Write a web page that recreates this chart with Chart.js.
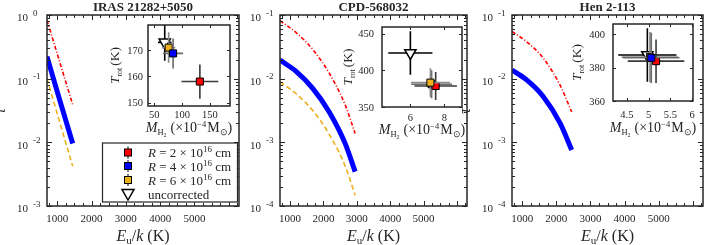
<!DOCTYPE html>
<html><head><meta charset="utf-8">
<script src="https://cdn.jsdelivr.net/npm/chart.js@4.4.0/dist/chart.umd.min.js"></script>
<style>
html,body{margin:0;padding:0;background:#fff;width:706px;height:245px;overflow:hidden}
canvas{position:absolute;left:0;top:0}
</style></head><body>
<script>
// ---------------- data ----------------
const panelTitles = ['IRAS 21282+5050', 'CPD-568032', 'Hen 2-113'];
const energyTicks = [1000, 2000, 3000, 4000, 5000];
const energyRange = [700, 6300];
// panel 1 : IRAS 21282+5050  (tau vs Eu/k)
const p1Energy = [700, 1000, 1450];
const p1TauR2 = [0.83, 0.244, 0.039];
const p1TauR4 = [0.222, 0.062, 0.0096];
const p1TauR6 = [0.10, 0.028, 0.0042];
// panel 2 : CPD-568032
const p2Energy = [700, 1190, 1680, 2170, 2650, 2950];
const p2TauR2 = [0.0813, 0.0525, 0.0288, 0.0123, 0.00389, 0.00138];
const p2TauR4 = [0.0196, 0.0129, 0.00705, 0.00303, 0.000964, 0.000347];
const p2TauR6 = [0.0089, 0.00575, 0.00316, 0.00135, 0.000427, 0.000148];
// panel 3 : Hen 2-113
const p3Energy = [700, 1130, 1620, 2110, 2450];
const p3TauR2 = [0.055, 0.038, 0.0209, 0.0079, 0.0030];
const p3TauR4 = [0.0137, 0.00955, 0.00521, 0.0020, 0.00076];
// legend
const legendRadii = ['2', '4', '6'];
const legendExtra = 'uncorrected';
// insets: order = [R=2e16, R=4e16, R=6e16, uncorrected]
const in1Mass = [132, 84, 76, 69];
const in1MassErr = [33, 18, 12, 12];
const in1Trot = [158, 168.7, 170.9, 172.9];
const in1TrotErr = [6.5, 5.7, 5.8, 7];
const in1XTicks = [50, 100, 150];
const in1YTicks = [150, 160, 170];
const in2Mass = [7.49, 7.25, 7.18, 6.0];
const in2MassErr = [1.25, 1.2, 1.15, 1.3];
const in2Trot = [378.6, 381, 383.2, 423.6];
const in2TrotErr = [19, 19, 19.5, 29.5];
const in2XTicks = [6, 8];
const in2YTicks = [350, 400, 450];
const in3Mass = [5.17, 5.06, 5.03, 4.97];
const in3MassErr = [0.65, 0.65, 0.65, 0.67];
const in3Trot = [383.8, 385.8, 386.2, 387.5];
const in3TrotErr = [13, 15, 15, 16];
const in3XTicks = [4.5, 5, 5.5, 6];
const in3YTicks = [360, 380, 400];

// ---------------- style ----------------
const COL = ['#ff0000', '#0000ff', '#EDB120'];
const ERRCOL = ['#3a3a3a', '#6a6a6a', '#8a8a8a', '#000000'];
const AX = '#262626';
const FONT = '"Liberation Serif","Times New Roman",serif';
function fnt(size, it, b) { return (b ? 'bold ' : '') + (it ? 'italic ' : '') + size + 'px ' + FONT; }
function rich(ctx, segs, x, y, align, base, rot) {
  ctx.save();
  ctx.translate(x, y); if (rot) ctx.rotate(rot);
  let w = 0;
  const items = segs.map(s => { const f = fnt(s.s || base, s.i, s.b); ctx.font = f; const mw = ctx.measureText(s.t).width; w += mw + (s.g || 0); return { f, mw, t: s.t, dy: s.dy || 0, g: s.g || 0 }; });
  let cx = align === 'center' ? -w / 2 : align === 'right' ? -w : 0;
  ctx.textAlign = 'left'; ctx.textBaseline = 'alphabetic'; ctx.fillStyle = AX;
  for (const it of items) { ctx.font = it.f; ctx.fillText(it.t, cx, it.dy); cx += it.mw + it.g; }
  ctx.restore();
}
function newCanvas() { const c = document.createElement('canvas'); c.width = 706; c.height = 245; document.body.appendChild(c); return c; }

function mainPlugin(o) {
  return {
    id: 'mainAxes',
    beforeDraw(chart) { const { ctx, chartArea: a } = chart; ctx.save(); ctx.fillStyle = '#fff'; ctx.fillRect(a.left, a.top, a.right - a.left, a.bottom - a.top); ctx.restore(); },
    afterDraw(chart) {
      const { ctx, chartArea: a, scales: { x, y } } = chart;
      ctx.save();
      ctx.strokeStyle = AX; ctx.lineWidth = 1;
      ctx.beginPath();
      for (let d = o.lo; d <= o.hi; d++) {
        for (let k = 1; k < 10; k++) {
          if (d === o.hi && k > 1) break;
          const py = Math.round(y.getPixelForValue(k * Math.pow(10, d))) + 0.5;
          const L = k === 1 ? 5 : 3;
          ctx.moveTo(a.left, py); ctx.lineTo(a.left + L, py);
          ctx.moveTo(a.right, py); ctx.lineTo(a.right - L, py);
        }
      }
      for (let v = Math.ceil(energyRange[0] / 250) * 250; v <= energyRange[1]; v += 250) {
        const px = Math.round(x.getPixelForValue(v)) + 0.5;
        const L = v % 1000 === 0 ? 5 : 3;
        ctx.moveTo(px, a.bottom); ctx.lineTo(px, a.bottom - L);
        ctx.moveTo(px, a.top); ctx.lineTo(px, a.top + L);
      }
      ctx.stroke();
      ctx.lineWidth = 1.5; ctx.strokeRect(a.left, a.top, a.right - a.left, a.bottom - a.top);
      ctx.restore();
      for (const v of energyTicks) rich(ctx, [{ t: String(v) }], x.getPixelForValue(v), a.bottom + 16, 'center', 11);
      for (let d = o.lo; d <= o.hi; d++) {
        const py = y.getPixelForValue(Math.pow(10, d));
        rich(ctx, [{ t: '10' }], a.left - 30, py + 6.3, 'left', 11);
        rich(ctx, [{ t: d === 0 ? '0' : '-' + Math.abs(d) }], a.left - 14, py + 0.8, 'left', 9);
      }
      const cxm = (a.left + a.right) / 2;
      rich(ctx, [{ t: 'E', i: 1 }, { t: 'u', s: 11, dy: 3 }, { t: '/' }, { t: 'k', i: 1 }, { t: ' (K)' }], cxm, 240.5, 'center', 16);
      rich(ctx, [{ t: o.title, b: 1 }], cxm, 10.5, 'center', 13);
      if (o.tau) rich(ctx, [{ t: 'τ', i: 1 }], a.left - 42, 111, 'center', 16, -Math.PI / 2);
      if (o.legend) drawLegend(ctx);
    }
  };
}

function drawSquare(ctx, px, py, col, errCol) {
  ctx.save();
  ctx.strokeStyle = errCol; ctx.lineWidth = 1.5;
  ctx.beginPath(); ctx.moveTo(px, py - 6); ctx.lineTo(px, py + 6); ctx.stroke();
  ctx.fillStyle = col; ctx.fillRect(px - 3.5, py - 3.5, 7, 7);
  ctx.strokeStyle = '#000'; ctx.lineWidth = 1; ctx.strokeRect(px - 3.5, py - 3.5, 7, 7);
  ctx.restore();
}
function drawLegend(ctx) {
  const bx = 102.5, by = 143, bw = 135, bh = 59;
  ctx.save();
  ctx.fillStyle = '#fff'; ctx.fillRect(bx, by, bw, bh);
  ctx.strokeStyle = AX; ctx.lineWidth = 1.2; ctx.strokeRect(bx, by, bw, bh);
  const rows = [152.5, 166, 180, 194];
  const mx = 128;
  for (let i = 0; i < 3; i++) {
    drawSquare(ctx, mx, rows[i], COL[i], '#555');
    rich(ctx, [{ t: 'R', i: 1 }, { t: ' = ' + legendRadii[i] + ' × 10' }, { t: '16', s: 9, dy: -5 }, { t: ' cm' }], 148, rows[i] + 4.5, 'left', 13);
  }
  const ty = rows[3];
  ctx.beginPath(); ctx.moveTo(mx - 6, ty - 4.5); ctx.lineTo(mx + 6, ty - 4.5); ctx.lineTo(mx, ty + 6); ctx.closePath();
  ctx.fillStyle = '#fff'; ctx.fill(); ctx.strokeStyle = '#000'; ctx.lineWidth = 1.5; ctx.stroke();
  rich(ctx, [{ t: legendExtra }], 148, ty + 4.5, 'left', 13);
  ctx.restore();
}

function makeMain(o) {
  const ds = o.series.map(s => ({
    data: o.E.map((e, i) => ({ x: e, y: s.v[i] })),
    borderColor: s.c, borderWidth: s.w, borderDash: s.d || [], pointRadius: 0,
    cubicInterpolationMode: o.straight ? 'default' : 'monotone', tension: 0, fill: false, borderCapStyle: 'butt'
  }));
  new Chart(newCanvas(), {
    type: 'line', data: { datasets: ds },
    options: {
      responsive: false, animation: false, devicePixelRatio: 1, events: [],
      layout: { padding: { left: o.L, right: 706 - o.R, top: o.T, bottom: 245 - o.B } },
      scales: {
        x: { type: 'linear', min: energyRange[0], max: energyRange[1], display: false },
        y: { type: 'logarithmic', min: Math.pow(10, o.lo), max: Math.pow(10, o.hi), display: false }
      },
      plugins: { legend: { display: false }, tooltip: { enabled: false } }
    },
    plugins: [mainPlugin(o)]
  });
}

function insetPlugin(o) {
  return {
    id: 'insetAxes',
    beforeDraw(chart) { const { ctx, chartArea: a } = chart; ctx.save(); ctx.fillStyle = '#fff'; ctx.fillRect(a.left, a.top, a.right - a.left, a.bottom - a.top); ctx.restore(); },
    beforeDatasetDraw(chart, args) {
      const i = args.index; const { ctx, chartArea: a, scales: { x, y } } = chart;
      const px = x.getPixelForValue(o.mass[i]), py = y.getPixelForValue(o.trot[i]);
      const x0 = x.getPixelForValue(o.mass[i] - o.massErr[i]), x1 = x.getPixelForValue(o.mass[i] + o.massErr[i]);
      const y0 = y.getPixelForValue(o.trot[i] - o.trotErr[i]), y1 = y.getPixelForValue(o.trot[i] + o.trotErr[i]);
      ctx.save();
      ctx.beginPath(); ctx.rect(a.left, a.top, a.right - a.left, a.bottom - a.top); ctx.clip();
      ctx.strokeStyle = ERRCOL[i]; ctx.lineWidth = 1.6;
      ctx.beginPath(); ctx.moveTo(x0, py); ctx.lineTo(x1, py); ctx.moveTo(px, y0); ctx.lineTo(px, y1); ctx.stroke();
      ctx.restore();
    },
    afterDraw(chart) {
      const { ctx, chartArea: a, scales: { x, y } } = chart;
      ctx.save();
      ctx.strokeStyle = AX; ctx.lineWidth = 1;
      ctx.beginPath();
      for (const v of o.xt) { const px = Math.round(x.getPixelForValue(v)) + 0.5; ctx.moveTo(px, a.bottom); ctx.lineTo(px, a.bottom - 3); ctx.moveTo(px, a.top); ctx.lineTo(px, a.top + 3); }
      for (const v of o.yt) { const py = Math.round(y.getPixelForValue(v)) + 0.5; ctx.moveTo(a.left, py); ctx.lineTo(a.left + 3, py); ctx.moveTo(a.right, py); ctx.lineTo(a.right - 3, py); }
      ctx.stroke();
      ctx.lineWidth = 1.5; ctx.strokeRect(a.left, a.top, a.right - a.left, a.bottom - a.top);
      ctx.restore();
      for (const v of o.xt) rich(ctx, [{ t: String(v) }], x.getPixelForValue(v), o.xlb, 'center', 10.5);
      for (const v of o.yt) rich(ctx, [{ t: String(v) }], a.left - o.ylg, y.getPixelForValue(v) + 3.6, 'right', 10.5);
      rich(ctx, [{ t: 'M', i: 1 }, { t: 'H', s: 8.5, dy: 3 }, { t: '2', s: 6, dy: 5, g: 4 }, { t: '(×10' }, { t: '−4', s: 8.5, dy: -5, g: 1 }, { t: 'M' }, { t: '⊙', s: 8.5, dy: 3 }, { t: ')' }], (a.left + a.right) / 2, o.xtb, 'center', 14);
      rich(ctx, [{ t: 'T', i: 1 }, { t: 'rot', s: 8, dy: 3, g: 2 }, { t: '(K)' }], o.ytx + 4, (a.top + a.bottom) / 2, 'center', 13.5, -Math.PI / 2);
    }
  };
}

function makeInset(o) {
  const ds = [];
  for (let i = 0; i < 4; i++) {
    const tri = i === 3;
    ds.push({
      data: [{ x: o.mass[i], y: o.trot[i] }],
      pointStyle: tri ? 'triangle' : 'rect', rotation: tri ? 180 : 0,
      pointRadius: tri ? 6.5 : 5, backgroundColor: tri ? '#fff' : COL[i],
      borderColor: '#000', borderWidth: tri ? 1.5 : 1, showLine: false,
      order: 10 - o.drawOrder.indexOf(i)
    });
  }
  new Chart(newCanvas(), {
    type: 'scatter', data: { datasets: ds },
    options: {
      responsive: false, animation: false, devicePixelRatio: 1, events: [],
      layout: { padding: { left: o.L, right: 706 - o.R, top: o.T, bottom: 245 - o.B } },
      scales: {
        x: { type: 'linear', min: o.xr[0], max: o.xr[1], display: false },
        y: { type: 'linear', min: o.yr[0], max: o.yr[1], display: false }
      },
      plugins: { legend: { display: false }, tooltip: { enabled: false } }
    },
    plugins: [insetPlugin(o)]
  });
}

// ---------------- build ----------------
const dashDot = [4, 2, 1, 2], dashed = [5, 3];
makeMain({ L: 47, R: 239, T: 15, B: 206, lo: -3, hi: 0, title: panelTitles[0], tau: true, legend: true, straight: true, E: p1Energy,
  series: [{ v: p1TauR2, c: COL[0], w: 1.6, d: dashDot }, { v: p1TauR4, c: COL[1], w: 5 }, { v: p1TauR6, c: COL[2], w: 1.6, d: dashed }] });
makeMain({ L: 280, R: 467, T: 15, B: 206, lo: -4, hi: -1, title: panelTitles[1], tau: false, E: p2Energy,
  series: [{ v: p2TauR2, c: COL[0], w: 1.6, d: dashDot }, { v: p2TauR4, c: COL[1], w: 5 }, { v: p2TauR6, c: COL[2], w: 1.6, d: dashed }] });
makeMain({ L: 512, R: 703, T: 15, B: 206, lo: -4, hi: -1, title: panelTitles[2], tau: true, E: p3Energy,
  series: [{ v: p3TauR2, c: COL[0], w: 1.6, d: dashDot }, { v: p3TauR4, c: COL[1], w: 5 }] });

makeInset({ L: 148, R: 230, T: 25, B: 106, xr: [39, 186], yr: [148.7, 179.5], xt: in1XTicks, yt: in1YTicks,
  mass: in1Mass, massErr: in1MassErr, trot: in1Trot, trotErr: in1TrotErr, drawOrder: [3, 0, 2, 1],
  xlb: 118, ylg: 5, xtb: 132, ytx: 115 });
makeInset({ L: 382, R: 462, T: 27, B: 107, xr: [4.33, 9.04], yr: [350, 459], xt: in2XTicks, yt: in2YTicks,
  mass: in2Mass, massErr: in2MassErr, trot: in2Trot, trotErr: in2TrotErr, drawOrder: [3, 1, 0, 2],
  xlb: 121, ylg: 8, xtb: 134, ytx: 348 });
makeInset({ L: 613, R: 693, T: 24, B: 101, xr: [4.18, 6.02], yr: [360, 406], xt: in3XTicks, yt: in3YTicks,
  mass: in3Mass, massErr: in3MassErr, trot: in3Trot, trotErr: in3TrotErr, drawOrder: [3, 2, 0, 1],
  xlb: 117.5, ylg: 8, xtb: 132, ytx: 577 });
</script>
</body></html>
